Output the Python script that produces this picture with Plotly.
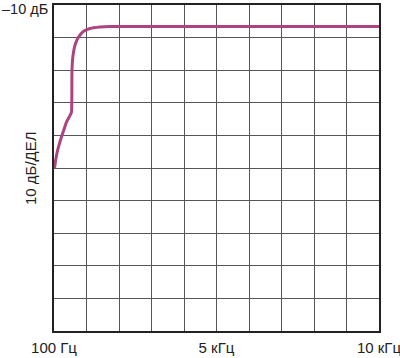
import plotly.graph_objects as go

# Frequency (Hz) and level (dB)
freq_hz = [100, 121, 152, 200, 283, 383, 487, 609, 633, 648, 673, 724, 800, 892, 1014, 1197, 1501, 1806, 3000, 6000, 10000]
level_db = [-60, -59.6, -57.5, -55.0, -51.9, -48.8, -45.8, -43.5, -42.8, -29.9, -26.0, -22.9, -20.7, -19.2, -18.0, -17.2, -16.75, -16.6, -16.6, -16.6, -16.6]

x_ticks = [100 + 990 * i for i in range(11)]
x_labels = ["100 Гц", "", "", "", "", "5 кГц", "", "", "", "", "10 кГц"]
y_ticks = [-10 - 10 * i for i in range(11)]
y_top_label = "–10 дБ"
y_title = "10 дБ/ДЕЛ"

FONT = "Liberation Sans, Arial, sans-serif"

fig = go.Figure()
fig.add_trace(go.Scatter(x=freq_hz, y=level_db, mode="lines",
                         line=dict(color="#AC4480", width=3, shape="spline", smoothing=0.6),
                         hoverinfo="skip", showlegend=False))

fig.update_layout(
    width=400, height=358,
    margin=dict(l=54, r=21, t=5, b=27, autoexpand=False),
    paper_bgcolor="white", plot_bgcolor="white",
    font=dict(family=FONT, size=15, color="#222222"),
    xaxis=dict(range=[100, 10000], tickmode="array", tickvals=x_ticks, ticktext=x_labels,
               showgrid=True, gridcolor="#555555", gridwidth=1, zeroline=False,
               showline=True, linecolor="#222222", linewidth=1.5, mirror=True,
               ticks="", ticklabelstandoff=2, ticklabeloverflow="allow",
               automargin=False, fixedrange=True),
    yaxis=dict(range=[-110, -10], tickmode="array", tickvals=y_ticks,
               showticklabels=False,
               showgrid=True, gridcolor="#555555", gridwidth=1, zeroline=False,
               showline=True, linecolor="#222222", linewidth=1.5, mirror=True,
               ticks="", automargin=False, fixedrange=True),
    annotations=[
        dict(text=y_title, x=0, y=0.5, xref="paper", yref="paper",
             xanchor="center", yanchor="middle", xshift=-24, textangle=-90,
             showarrow=False, font=dict(family=FONT, size=15, color="#222222")),
        dict(text=y_top_label, x=0, y=1, xref="paper", yref="paper",
             xanchor="right", yanchor="top", xshift=-5, yshift=5, borderpad=0,
             showarrow=False, font=dict(family=FONT, size=14.5, color="#222222")),
    ],
)

fig.write_html("out.html")
